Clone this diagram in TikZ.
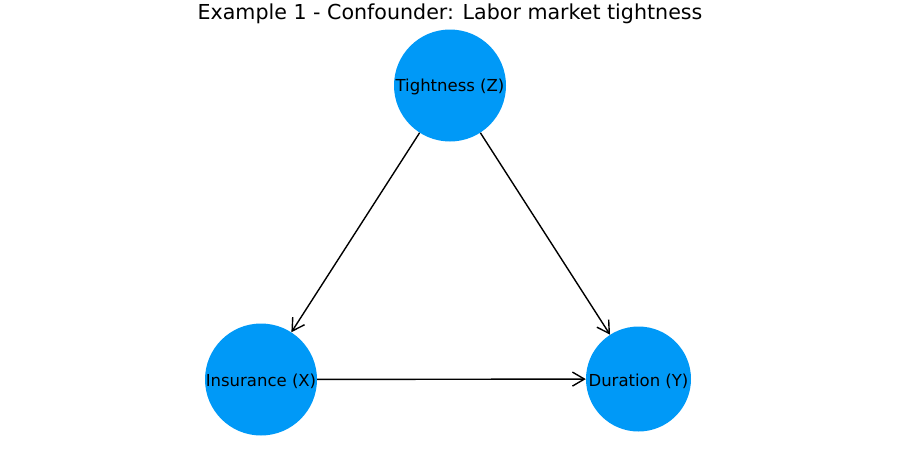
\documentclass[tikz,border=0pt]{standalone}
\usepackage{fontspec}
\setmainfont{DejaVu Sans}
\usetikzlibrary{arrows.meta}
\definecolor{nodeblue}{RGB}{0,153,247}
\tikzset{
  vnode/.style={circle, fill=nodeblue, draw=none, inner sep=0pt, font=\fontsize{16.5}{19}\selectfont, text=black},
  lbl/.style={font=\fontsize{16.5}{19}\selectfont, text=black, inner sep=0pt},
  edge/.style={draw=black, line width=1.4pt, -{Straight Barb[length=12pt,width=14pt,line width=1.4pt]}, shorten >=0pt}
}
\begin{document}
\begin{tikzpicture}[x=1pt,y=-1pt]
\useasboundingbox (0,0) rectangle (900,450);
\node[font=\fontsize{20.6}{24}\selectfont] (title) at (450,13.5) {Example 1 - Confounder: Labor market tightness};
\node[vnode, minimum size=112pt] (Z) at (450,85.5) {};
\node[vnode, minimum size=112pt] (X) at (261,379.5) {};
\node[vnode, minimum size=105pt] (Y) at (638.5,379) {};
\node[lbl] (Zl) at (450,87) {Tightness (Z)};
\node[lbl] (Xl) at (261,381) {Insurance (X)};
\node[lbl] (Yl) at (638.5,381) {Duration (Y)};
\draw[edge] (Z) -- (X);
\draw[edge] (Z) -- (Y);
\draw[edge] (X) -- (Y);
\end{tikzpicture}
\end{document}
